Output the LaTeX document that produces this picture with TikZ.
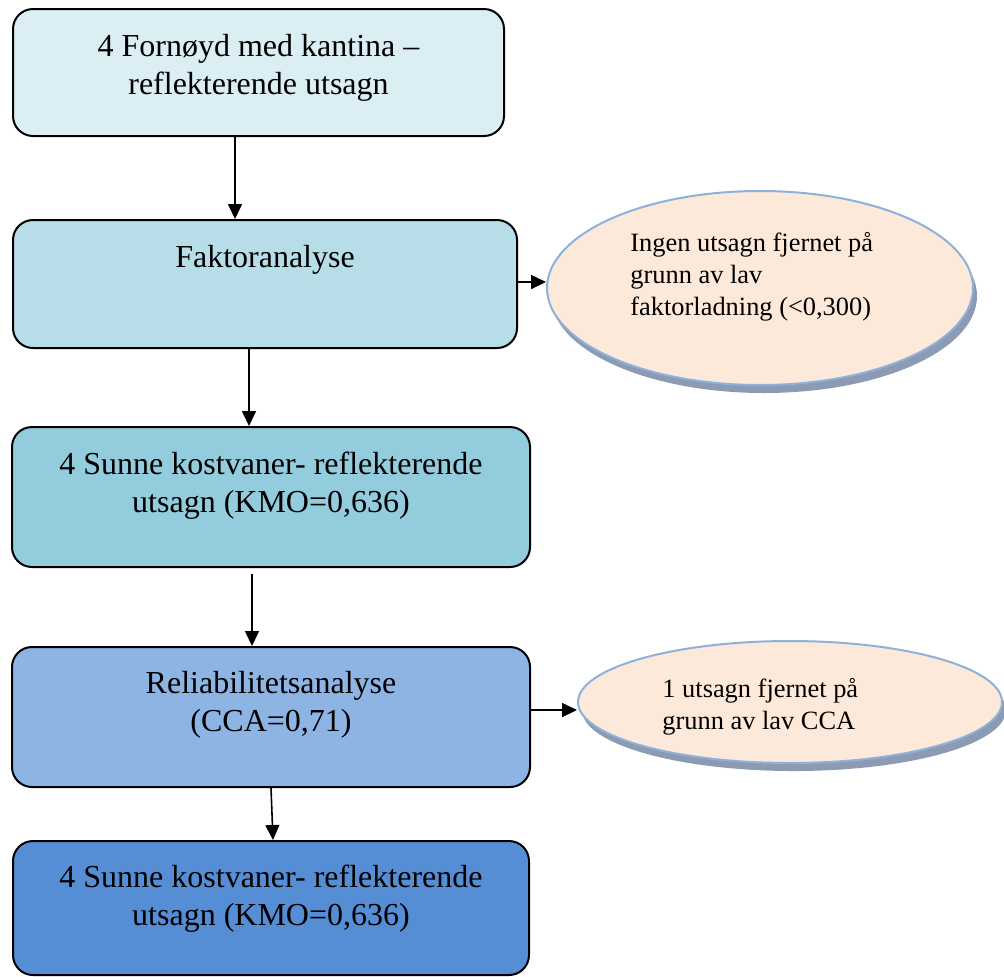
\documentclass[tikz,border=0pt]{standalone}
\usepackage{fontspec}
\setmainfont{Liberation Serif}
\usetikzlibrary{shapes.geometric,arrows.meta,shadows}
\definecolor{cA}{HTML}{DBEEF4}
\definecolor{cB}{HTML}{B7DEE8}
\definecolor{cC}{HTML}{93CDDD}
\definecolor{cD}{HTML}{8EB4E3}
\definecolor{cE}{HTML}{558ED5}
\definecolor{ovfill}{HTML}{FDE9D9}
\definecolor{ovline}{HTML}{8EB1DB}
\definecolor{ovshadow}{HTML}{8C9BB3}
\tikzset{
  flowbox/.style={draw=black, line width=1pt, rounded corners=10pt, inner sep=0pt},
  oval/.style={ellipse, draw=ovline, line width=1pt, fill=ovfill, inner sep=0pt,
    general shadow={fill=ovshadow, shadow xshift=2pt, shadow yshift=-4pt}},
  boxtxt/.style={align=center, inner sep=0pt, font=\fontsize{16}{19}\selectfont},
  ovtxt/.style={align=left, inner sep=0pt, font=\fontsize{13.2}{15.8}\selectfont},
  arr/.style={-{Triangle[length=7.5pt,width=7pt]}, line width=0.8pt, draw=black}
}
\begin{document}
\begin{tikzpicture}[x=0.5pt,y=-0.5pt]
\useasboundingbox (0,0) rectangle (1004,976);
% boxes
\node[flowbox, fill=cA, minimum width=245.5pt, minimum height=63.5pt] (b1) at (258.5,72.5) {};
\node[flowbox, fill=cB, minimum width=252pt, minimum height=64pt] (b2) at (265,284) {};
\node[flowbox, fill=cC, minimum width=259pt, minimum height=70pt] (b3) at (271,497) {};
\node[flowbox, fill=cD, minimum width=259pt, minimum height=70pt] (b4) at (271,717) {};
\node[flowbox, fill=cE, minimum width=258pt, minimum height=67pt] (b5) at (271,908) {};
% ovals
\node[oval, minimum width=213pt, minimum height=97pt] (e1) at (760,288) {};
\node[oval, minimum width=212pt, minimum height=61pt] (e2) at (790,702) {};
% texts (anchor base = baseline of the last line)
\node[boxtxt, anchor=base] (t1) at (258.5,94) {4 Fornøyd med kantina –\\reflekterende utsagn};
\node[boxtxt, anchor=base] (t2) at (265,267) {Faktoranalyse};
\node[boxtxt, anchor=base] (t3) at (271,512) {4 Sunne kostvaner- reflekterende\\utsagn (KMO=0,636)};
\node[boxtxt, anchor=base] (t4) at (271,731) {Reliabilitetsanalyse\\(CCA=0,71)};
\node[boxtxt, anchor=base] (t5) at (271,925) {4 Sunne kostvaner- reflekterende\\utsagn (KMO=0,636)};
\node[ovtxt, anchor=base west] (t6) at (630,315) {Ingen utsagn fjernet på\\grunn av lav\\faktorladning (<0,300)};
\node[ovtxt, anchor=base west] (t7) at (662,729) {1 utsagn fjernet på\\grunn av lav CCA};
% connectors
\draw[arr] ([xshift=-11.75pt]b1.south) -- ([xshift=-15pt]b2.north);
\draw[arr] ([xshift=-8pt]b2.south) -- ([xshift=-11pt]b3.north);
\draw[arr] ([xshift=-9.5pt,yshift=-3pt]b3.south) -- ([xshift=-9.5pt]b4.north);
\draw[arr] (b4.south) -- ([xshift=1pt]b5.north);
\draw[arr] ([yshift=1pt]b2.east) -- ([yshift=3pt]e1.west);
\draw[arr] ([yshift=3.5pt]b4.east) -- ([yshift=-4pt]e2.west);
\end{tikzpicture}
\end{document}
